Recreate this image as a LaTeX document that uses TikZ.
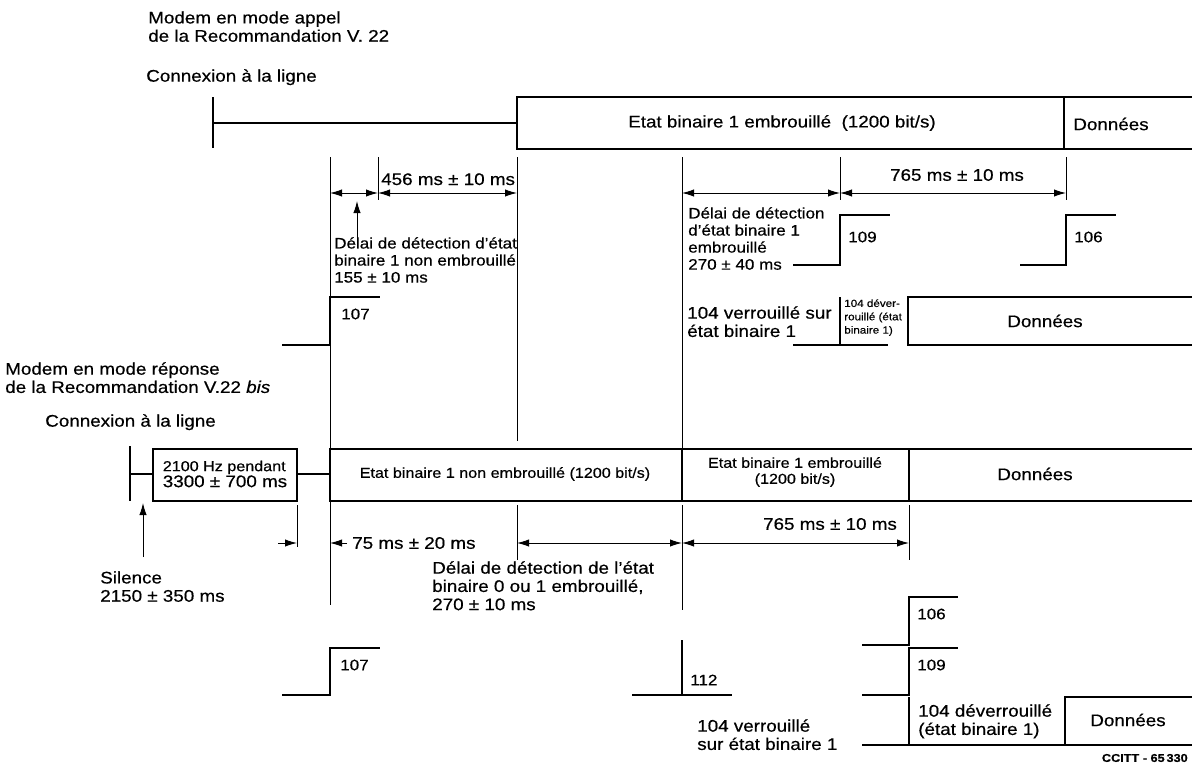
\documentclass[tikz,border=0pt]{standalone}
\usepackage{fontspec}
\setmainfont{Liberation Sans}[FakeStretch=1.12,FakeBold=0.5]
\usetikzlibrary{arrows.meta}
\newcommand\fGrand{\fontsize{12.6}{13.7}\selectfont}
\newcommand\fMoyen{\fontsize{11.4}{12.8}\selectfont}
\newcommand\fPetit{\fontsize{10.8}{12}\selectfont}
\newcommand\fMini{\fontsize{7.8}{10}\selectfont}
\newcommand\fCode{\bfseries\fontsize{8.5}{10}\selectfont}

\begin{document}
\begin{tikzpicture}[x=0.75pt,y=-0.75pt,
    sig/.style={line width=2.1pt},
    fin/.style={line width=0.7pt},
    cote/.style={fin,{Latex[length=9pt,width=5.5pt]}-{Latex[length=9pt,width=5.5pt]}},
    fleche/.style={fin,-{Latex[length=9pt,width=5.5pt]}},
    txt/.style={inner sep=0pt,anchor=north west,align=left,font=\fMoyen},
    num/.style={inner sep=0pt,anchor=west,font=\fMoyen}]
        \useasboundingbox (0,0) rectangle (1192,769);

        % Modem appelant (V.22)
        \node[txt,font=\fGrand] (titreA) at (148,11) {Modem en mode appel\\de la Recommandation V. 22};
        \node[txt,font=\fGrand] (connA) at (146,69) {Connexion à la ligne};

        \draw[sig] (213,97) -- (213,148);
        \draw[sig] (213,123) -- (517,123);
        \draw[sig] (1192,97) -- (517,97) -- (517,149) -- (1192,149);
        \draw[sig] (1064,97) -- (1064,149);
        \node[font=\fGrand] (etatA) at (782,123) {Etat binaire 1 embrouillé~~(1200 bit/s)};
        \node[font=\fGrand] (donA) at (1111,124) {Données};

        % Lignes de repère
        \draw[fin] (330,157) -- (330,449) (330,501) -- (330,605);
        \draw[fin] (378,157) -- (378,200);
        \draw[fin] (517,157) -- (517,441) (517,505) -- (517,560);
        \draw[fin] (682,157) -- (682,449) (682,505) -- (682,610);
        \draw[fin] (840,157) -- (840,200);
        \draw[fin] (1066,157) -- (1066,200);

        % Cotes côté appel
        \draw[cote] (330,193) -- (378,193);
        \draw[cote] (378,193) -- (517,193);
        \node[font=\fGrand,inner sep=0pt,anchor=base west] (t456) at (381,185) {456 ms ± 10 ms};
        \draw[fleche] (357,243) -- (357,201);
        \node[txt] (delaiA) at (334,237) {Délai de détection d'état\\binaire 1 non embrouillé\\155 ± 10 ms};

        \draw[cote] (682,193) -- (840,193);
        \draw[cote] (840,193) -- (1066,193);
        \node[font=\fGrand] (t765a) at (957,175) {765 ms ± 10 ms};
        \node[txt] (delaiB) at (688,207) {Délai de détection\\d'état binaire 1\\embrouillé\\270 ± 40 ms};

        % Circuits côté appel
        \draw[sig] (282,345) -- (330,345) -- (330,297) -- (380,297);
        \node[num] (c107a) at (341,314) {107};
        \draw[sig] (793,265) -- (840,265) -- (840,215) -- (890,215);
        \node[num] (c109a) at (848,237) {109};
        \draw[sig] (1020,265) -- (1066,265) -- (1066,215) -- (1116,215);
        \node[num] (c106a) at (1074,237) {106};

        \node[txt,font=\fGrand] (verrA) at (687,306) {104 verrouillé sur\\état binaire 1};
        \draw[sig] (793,345) -- (888,345);
        \draw[sig] (840,345) -- (840,297);
        \node[txt,font=\fMini] (deverA) at (844,299) {104 déver-\\rouillé (état\\binaire 1)};
        \draw[sig] (1192,297) -- (908,297) -- (908,345) -- (1192,345);
        \node[font=\fGrand] (donB) at (1045,321) {Données};

        % Modem répondeur (V.22 bis)
        \node[txt,font=\fGrand] (titreB) at (5,362) {Modem en mode réponse\\de la Recommandation V.22 \textit{bis}};
        \node[txt,font=\fGrand] (connB) at (45,414) {Connexion à la ligne};

        \draw[sig] (130,446) -- (130,501);
        \draw[sig] (130,474) -- (153,474);
        \draw[sig] (153,449) rectangle (297,501);
        \node[font=\fPetit,align=left] (tonalite) at (225,474) {2100 Hz pendant\\{\fGrand 3300 ± 700 ms}};
        \draw[sig] (297,474) -- (330,474);
        \draw[sig] (1192,449) -- (330,449) -- (330,501) -- (1192,501);
        \draw[sig] (682,449) -- (682,501);
        \draw[sig] (909,449) -- (909,501);
        \node[font=\fPetit] (etatB) at (505,474) {Etat binaire 1 non embrouillé (1200 bit/s)};
        \node[font=\fPetit,align=center] (etatC) at (795,472) {Etat binaire 1 embrouillé\\(1200 bit/s)};
        \node[font=\fGrand] (donC) at (1035,474) {Données};

        % Cotes côté réponse
        \draw[fin] (297,505) -- (297,547);
        \draw[fleche] (278,543) -- (297,543);
        \draw[fleche] (347,543) -- (330,543);
        \node[font=\fGrand,inner sep=0pt,anchor=west] (t75) at (352,543) {75 ms ± 20 ms};
        \draw[cote] (517,543) -- (682,543);
        \draw[cote] (682,543) -- (909,543);
        \draw[fin] (909,505) -- (909,560);
        \node[font=\fGrand] (t765b) at (830,524) {765 ms ± 10 ms};
        \draw[fleche] (143,557) -- (143,503);
        \node[txt,font=\fGrand] (silence) at (100,571) {Silence\\2150 ± 350 ms};
        \node[txt,font=\fGrand] (delaiC) at (432,561) {Délai de détection de l'état\\binaire 0 ou 1 embrouillé,\\270 ± 10 ms};

        % Circuits côté réponse
        \draw[sig] (862,645) -- (909,645) -- (909,597) -- (958,597);
        \node[num] (c106b) at (917,614) {106};
        \draw[sig] (282,695) -- (330,695) -- (330,648) -- (380,648);
        \node[num] (c107b) at (340,665) {107};
        \draw[sig] (632,695) -- (732,695) (682,695) -- (682,640);
        \node[num] (c112) at (690,680) {112};
        \draw[sig] (862,695) -- (909,695) -- (909,648) -- (958,648);
        \node[num] (c109b) at (917,665) {109};

        \node[txt,font=\fGrand] (verrB) at (697,719) {104 verrouillé\\sur état binaire 1};
        \draw[sig] (862,745) -- (1192,745) (909,745) -- (909,697);
        \draw[sig] (1065,745) -- (1065,697) -- (1192,697);
        \node[txt,font=\fGrand] (deverB) at (918,704) {104 déverrouillé\\(état binaire 1)};
        \node[font=\fGrand] (donD) at (1128,720) {Données};
        \node[font=\fCode,inner sep=0pt,anchor=east] (ref) at (1188,758) {CCITT - 65\,330};

    \end{tikzpicture}
\end{document}
